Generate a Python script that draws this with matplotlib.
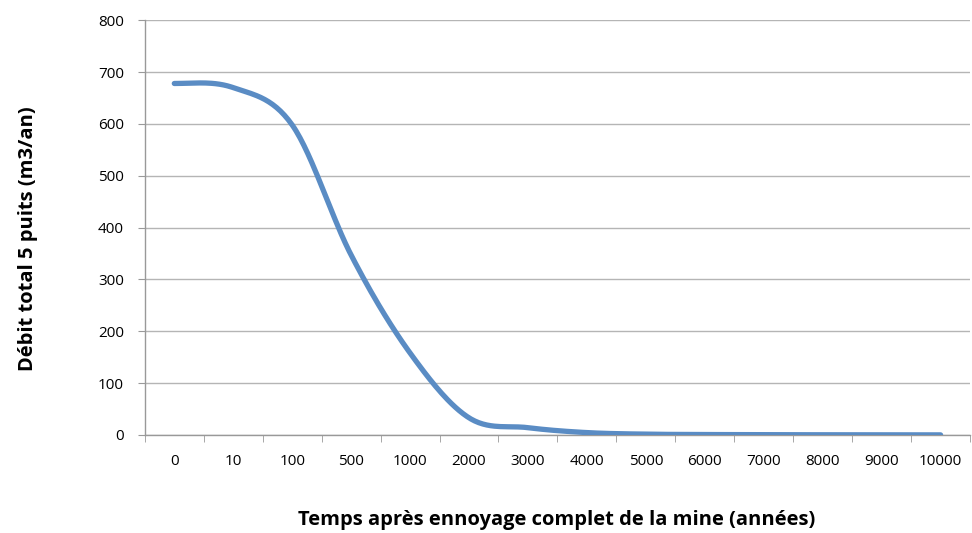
import numpy as np
import matplotlib
matplotlib.use("Agg")
import matplotlib.pyplot as plt

categories = ["0", "10", "100", "500", "1000", "2000", "3000", "4000",
              "5000", "6000", "7000", "8000", "9000", "10000"]
debit = [678, 670, 598, 347, 158, 33, 14, 4.5, 1.5, 0.8, 0.5, 0.3, 0.2, 0.1]

def smooth(xs, ys, tension=0.5, n=30):
    xs = np.asarray(xs, float); ys = np.asarray(ys, float)
    m = np.zeros_like(ys)
    m[1:-1] = (ys[2:] - ys[:-2]) * tension
    m[0] = 0.0
    m[-1] = (ys[-1] - ys[-2]) * tension
    ox, oy = [], []
    for i in range(len(xs) - 1):
        t = np.linspace(0, 1, n, endpoint=False)
        h00 = 2*t**3 - 3*t**2 + 1
        h10 = t**3 - 2*t**2 + t
        h01 = -2*t**3 + 3*t**2
        h11 = t**3 - t**2
        ox.append(xs[i] + t*(xs[i+1]-xs[i]))
        oy.append(h00*ys[i] + h10*m[i] + h01*ys[i+1] + h11*m[i+1])
    ox.append([xs[-1]]); oy.append([ys[-1]])
    return np.concatenate(ox), np.concatenate(oy)

plt.rcParams['font.family'] = ['Open Sans', 'DejaVu Sans']

fig = plt.figure(figsize=(9.72, 5.33), dpi=100)
ax = fig.add_axes([0.149, 0.184, 0.849, 0.778])

x = np.arange(len(categories))
sx, sy = smooth(x, debit)
ax.plot(sx, sy, color='#5a8cc4', lw=3.8, solid_capstyle='round', zorder=3)

ax.set_xlim(-0.5, len(categories)-0.5)
ax.set_ylim(0, 800)
ax.set_yticks(np.arange(0, 801, 100))
ax.set_xticks(x)
ax.set_xticklabels(categories)
ax.set_xticks(np.arange(-0.5, len(categories), 1), minor=True)
ax.tick_params(axis='x', which='major', length=0, pad=14, labelsize=11, colors='black')
ax.tick_params(axis='x', which='minor', length=5, color='#999999', direction='out')
ax.tick_params(axis='y', length=5, color='#999999', labelsize=11, pad=10)

ax.grid(axis='y', color='#b5b5b5', lw=1.0)
ax.set_axisbelow(True)
for s in ('top', 'right'):
    ax.spines[s].set_visible(False)
for s in ('left', 'bottom'):
    ax.spines[s].set_color('#999999')
    ax.spines[s].set_linewidth(1.0)

fig.text(0.029, 0.553, "Débit total 5 puits (m3/an)", rotation=90, ha='center', va='center',
         fontsize=14.5, fontweight='bold')
fig.text(0.573, 0.024, "Temps après ennoyage complet de la mine (années)", ha='center', va='center',
         fontsize=14.5, fontweight='bold')

fig.savefig("out.png", dpi=100)
